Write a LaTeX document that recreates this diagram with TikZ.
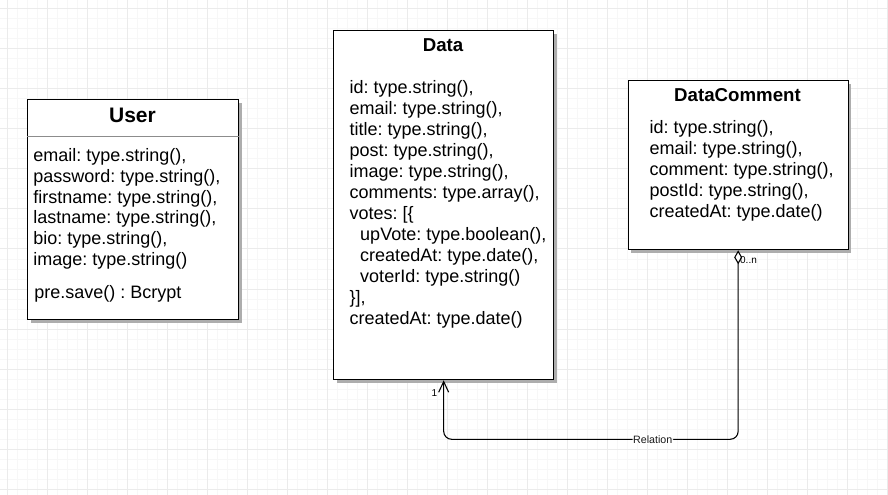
\documentclass[tikz,border=0pt]{standalone}
\usepackage{fontspec}
\setmainfont{Liberation Sans}
\usetikzlibrary{arrows.meta,shadows}
\frenchspacing

\tikzset{
  umlbox/.style = {draw, line width=1pt, fill=white, anchor=north west, inner sep=0pt,
    drop shadow={shadow xshift=2.25pt, shadow yshift=-2.25pt, fill=black!32, opacity=1}},
  classname/.style = {anchor=base, inner sep=0pt, font=\bfseries\fontsize{14}{16}\selectfont},
  attrs/.style = {anchor=north west, align=left, inner sep=0pt, font=\fontsize{13.5}{15.8}\selectfont},
  mult/.style = {inner sep=0pt, font=\fontsize{7.5}{9}\selectfont},
  rellabel/.style = {fill=white, inner sep=0.5pt, text=black!90, font=\fontsize{8}{9}\selectfont},
  relation/.style = {draw, line width=0.8pt, rounded corners=6pt,
    {Diamond[open, fill=white, length=10.5pt, width=6pt]}-{Straight Barb[length=8pt, width=7.5pt]}},
  gridminor/.style = {black!3, line width=0.75pt},
  gridmajor/.style = {black!8, line width=0.75pt}
}

\begin{document}
\begin{tikzpicture}[x=0.75pt, y=-0.75pt]
  \fill[white] (0,0) rectangle (888,495);
  \useasboundingbox (0,0) rectangle (888,495);
  % background grid
  \foreach \g in {7,17,...,887} \draw[gridminor] (\g,0) -- (\g,495);
  \foreach \g in {9,19,...,489} \draw[gridminor] (0,\g) -- (888,\g);
  \foreach \g in {7,47,...,887} \draw[gridmajor] (\g,0) -- (\g,495);
  \foreach \g in {9,49,...,489} \draw[gridmajor] (0,\g) -- (888,\g);

  % User
  \node[umlbox, minimum width=158.25pt, minimum height=165pt] (user) at (27,99) {};
  \node[classname, font=\bfseries\fontsize{15.75}{18}\selectfont] (user-name) at (132.5,123) {User};
  \draw[black!45, line width=0.75pt] (user.west |- 0,136.5) -- (user.east |- 0,136.5);
  \node[attrs, font=\fontsize{13.5}{15.5}\selectfont] (user-attrs) at (33,148.6) {email: type.string(),\\
    password: type.string(),\\
    firstname: type.string(),\\
    lastname: type.string(),\\
    bio: type.string(),\\
    image: type.string()};
  \node[attrs] (user-ops) at (34,285.1) {pre.save() : Bcrypt};

  % Data
  \node[umlbox, minimum width=165pt, minimum height=261.75pt] (data) at (333,30) {};
  \node[classname] (data-name) at (443,51.7) {Data};
  \node[attrs] (data-attrs) at (349.3,79.8) {id: type.string(),\\
    email: type.string(),\\
    title: type.string(),\\
    post: type.string(),\\
    image: type.string(),\\
    comments: type.array(),\\
    votes: [\{\\
    \hspace*{8pt}upVote: type.boolean(),\\
    \hspace*{8pt}createdAt: type.date(),\\
    \hspace*{8pt}voterId: type.string()\\
    \}],\\
    createdAt: type.date()};

  % DataComment
  \node[umlbox, minimum width=165pt, minimum height=126.75pt] (comment) at (627.5,80) {};
  \node[classname] (comment-name) at (737.5,101.7) {DataComment};
  \node[attrs] (comment-attrs) at (649.3,120.2) {id: type.string(),\\
    email: type.string(),\\
    comment: type.string(),\\
    postId: type.string(),\\
    createdAt: type.date()};

  % relation
  \draw[relation] (comment.south) -- (comment.south |- 0,439.3)
    -- node[rellabel, pos=0.29] (rel-label) {Relation} (data.south |- 0,439.3) -- (data.south);
  \node[mult] (data-mult) at (434.5,393) {1};
  \node[mult] (comment-mult) at (748.5,260) {0..n};
\end{tikzpicture}
\end{document}
